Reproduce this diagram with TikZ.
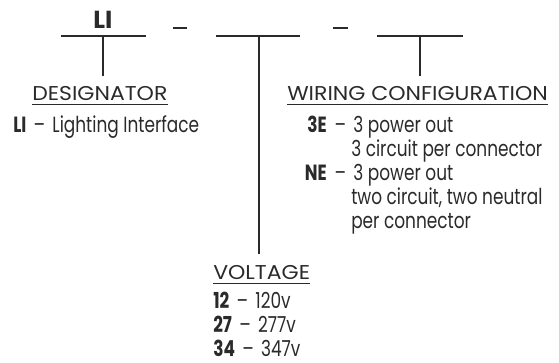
\documentclass[tikz,border=0pt]{standalone}
\usepackage{fontspec}
\setmainfont{Poppins}
\newfontfamily\bodyfont{Poppins}[FakeStretch=0.77]
\newfontfamily\headfont{Poppins}[FakeStretch=1.1]
\definecolor{ink}{HTML}{2A2A2A}
\newcommand\sepdash{\hspace{5.5pt}\textendash\hspace{5.5pt}}

\begin{document}
\begin{tikzpicture}[x=0.75pt,y=-0.75pt,
    every node/.style={text=ink, inner sep=0pt},
    slot/.style={draw=ink, line width=0.9pt},
    uline/.style={draw=ink, line width=0.7pt},
    blank/.style={draw=ink, line width=2pt},
    head/.style={anchor=base west, font=\headfont\fontsize{15}{17}\selectfont},
    item/.style={anchor=base west, font=\bodyfont\fontsize{16.5}{18}\selectfont}]
    \useasboundingbox (0,0) rectangle (559,362);
    % slots of the part number
    \coordinate (s1w) at (61,36);  \coordinate (s1e) at (146,36);
    \coordinate (s2w) at (216,36); \coordinate (s2e) at (300,36);
    \coordinate (s3w) at (377,36); \coordinate (s3e) at (463,36);
    \draw[slot] (s1w) -- (s1e);
    \draw[slot] (s2w) -- (s2e);
    \draw[slot] (s3w) -- (s3e);
    \coordinate (s1) at (103,36);
    \coordinate (s2) at (259,36);
    \coordinate (s3) at (420,36);
    \node[anchor=base, font=\bfseries\fontsize{18.5}{20}\selectfont] (li) at (103,28) {LI};
    \coordinate (b1w) at (173,28); \coordinate (b1e) at (187,28);
    \coordinate (b2w) at (333,28); \coordinate (b2e) at (348,28);
    \draw[blank] (b1w) -- (b1e);
    \draw[blank] (b2w) -- (b2e);
    % headings
    \node[head] (des) at (32,100) {DESIGNATOR};
    \node[head] (wir) at (287,100) {WIRING CONFIGURATION};
    \node[head] (volt) at (213,279) {VOLTAGE};
    \foreach \h in {des,wir,volt}
        \draw[uline] ([yshift=-3pt]\h.base west) -- ([yshift=-3pt]\h.base east);
    \draw[slot, shorten >=7pt] (s1) -- (s1 |- des.north);
    \draw[slot, shorten >=8pt] (s2) -- (s2 |- volt.north);
    \draw[slot, shorten >=7pt] (s3) -- (s3 |- wir.north);
    % designator
    \node[item] (d1) at (13,132) {\textbf{LI}\sepdash Lighting Interface};
    % wiring configuration
    \node[item, anchor=base east] (w1) at (327,132) {\textbf{3E}};
    \node[item] (w1t) at (327,132) {\sepdash 3 power out};
    \node[item] (w2) at (351,156) {3 circuit per connector};
    \node[item, anchor=base east] (w3) at (327,180) {\textbf{NE}};
    \node[item] (w3t) at (327,180) {\sepdash 3 power out};
    \node[item] (w4) at (351,204) {two circuit, two neutral};
    \node[item] (w5) at (351,228) {per connector};
    % voltage
    \node[item] (v1) at (213,308) {\textbf{12}\sepdash 120v};
    \node[item] (v2) at (213,332) {\textbf{27}\sepdash 277v};
    \node[item] (v3) at (213,356) {\textbf{34}\sepdash 347v};
\end{tikzpicture}
\end{document}
